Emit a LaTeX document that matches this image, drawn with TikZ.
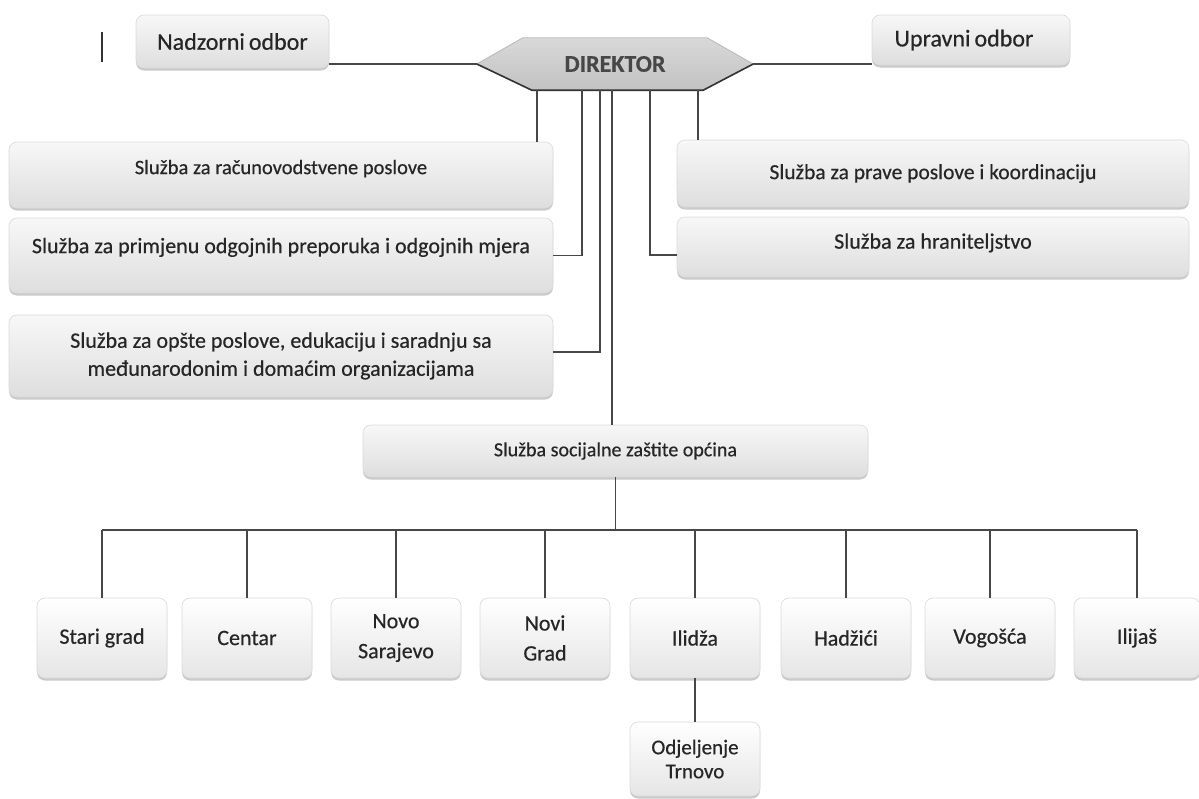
\documentclass[tikz,border=0pt]{standalone}
\usepackage{fontspec}
\setmainfont{Carlito}[FakeBold=0.5]
\usetikzlibrary{shadows,backgrounds}
\newcommand{\fsz}[1]{\fontsize{#1}{28}\selectfont}
\begin{document}
\begin{tikzpicture}[x=1pt,y=-1pt,
  box/.style={rounded corners=8pt, draw=gray!30, line width=0.6pt,
    top color=gray!6, bottom color=gray!26,
    drop shadow={shadow xshift=0pt, shadow yshift=-2.5pt, fill=gray!70, opacity=0.6},
    inner sep=2pt, font=\fsz{21}, text=black!85, align=center},
  town/.style={box, top color=white, bottom color=gray!20, minimum width=130pt, minimum height=80pt,
    font=\fontsize{22}{30}\selectfont},
  conn/.style={draw=black!72, line width=1.3pt}]
\useasboundingbox (0,0) rectangle (1199,798);

% top row
\node[box, minimum width=193pt, minimum height=53pt, font=\fsz{24}] (nad) at (232.5,41.5) {Nadzorni\,odbor};
\node[box, minimum width=198pt, minimum height=50pt, font=\fsz{24}] (upr) at (971,40) {Upravni\,odbor\hspace*{14pt}};
\node[minimum width=276pt, minimum height=52pt, inner sep=0pt,
  font=\fontsize{24}{26}\selectfont\bfseries, text=black!72] (dir) at (615,64) {DIREKTOR};
\begin{scope}[on background layer]
  \path[top color=gray!30, bottom color=gray!48, draw=gray!55, line width=0.8pt]
    (dir.west) -- ([xshift=46pt]dir.north west) -- ([xshift=-46pt]dir.north east)
    -- (dir.east) -- ([xshift=-50pt]dir.south east) -- ([xshift=55pt]dir.south west) -- cycle;
  \draw[gray!40!black, line width=1.6pt] (dir.west) -- ([xshift=55pt]dir.south west)
    -- ([xshift=-50pt]dir.south east) -- (dir.east);
\end{scope}
\draw[black!80, line width=1.5pt] (102,32) -- (102,62);

% left services
\node[box, minimum width=544pt, minimum height=66pt, text depth=16pt, font=\fsz{20.5}] (b1) at (281,175)
  {Služba za računovodstvene poslove};
\node[box, minimum width=544pt, minimum height=75pt, text depth=20pt, font=\fsz{22}] (b2) at (281,255.5)
  {Služba za primjenu odgojnih preporuka i odgojnih mjera};
\node[box, minimum width=544pt, minimum height=82pt, font=\fsz{22}] (b3) at (281,356)
  {Služba za opšte poslove, edukaciju i saradnju sa\\međunarodonim i domaćim organizacijama};

% right services
\node[box, minimum width=512pt, minimum height=67pt, font=\fsz{21.5}] (b4) at (933,173.5)
  {Služba za prave poslove i koordinaciju};
\node[box, minimum width=512pt, minimum height=60pt, text depth=12pt, font=\fsz{22}] (b5) at (933,247)
  {Služba za hraniteljstvo};

% municipal service
\node[box, minimum width=505pt, minimum height=52pt, font=\fsz{20}] (soc) at (615.5,451)
  {Služba socijalne zaštite općina};

% towns
\node[town] (t1) at (102,638) {Stari grad};
\node[town] (t2) at (247,638) {Centar};
\node[town] (t3) at (396,638) {Novo\\Sarajevo};
\node[town] (t4) at (545,638) {Novi\\Grad};
\node[town] (t5) at (695,638) {Ilidža};
\node[town] (t6) at (846,638) {Hadžići};
\node[town] (t7) at (990,638) {Vogošća};
\node[town, minimum width=126pt] (t8) at (1137,638) {Ilijaš};
\node[town, minimum height=74pt, font=\fontsize{21}{24}\selectfont] (odj) at (695,759) {Odjeljenje\\Trnovo};

% connectors
\draw[conn] (dir.west) -- (dir.west -| nad.east);
\draw[conn] (dir.east) -- (dir.east -| upr.west);
\draw[conn] ([xshift=-78pt]dir.south) -- ([xshift=-78pt]dir.south |- b1.north);
\draw[conn] (b2.east) -| ([xshift=-33pt]dir.south);
\draw[conn] ([yshift=4pt]b3.east) -| ([xshift=-15pt]dir.south);
\draw[conn] ([xshift=-3pt]dir.south) -- ([xshift=-3pt]dir.south |- soc.north);
\draw[conn] ([yshift=-8pt]b5.west) -| ([xshift=35pt]dir.south);
\draw[conn] ([xshift=83pt]dir.south) -- ([xshift=83pt]dir.south |- b4.north);

\coordinate (bus) at (615,530);
\draw[conn] (soc.south) -- (soc.south |- bus);
\draw[conn] (t1.north |- bus) -- (t8.north |- bus);
\foreach \t in {t1,t2,t3,t4,t5,t6,t7,t8} {
  \draw[conn] (\t.north) -- (\t.north |- bus);
}
\draw[conn] (t5.south) -- (odj.north);
\end{tikzpicture}
\end{document}
